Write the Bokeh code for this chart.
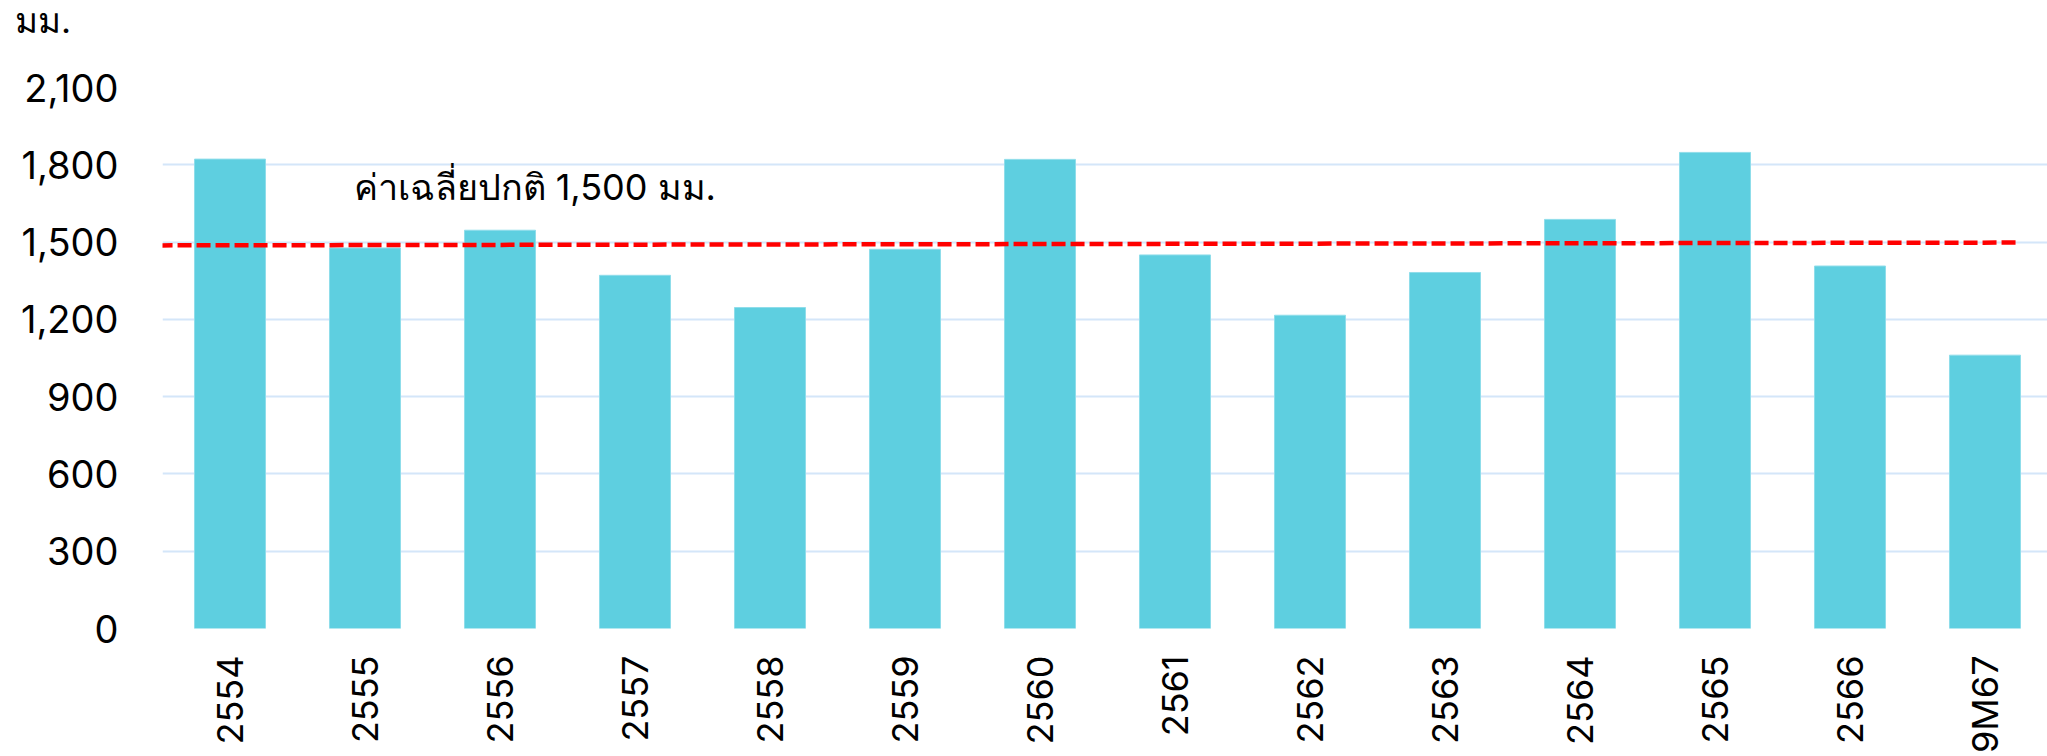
import math
from bokeh.plotting import figure
from bokeh.layouts import column
from bokeh.models import (Range1d, FixedTicker, Label, Arrow, ColumnDataSource,
                          NumeralTickFormatter, Div)
from bokeh.embed import file_html
from bokeh.resources import INLINE

years = ["2554", "2555", "2556", "2557", "2558", "2559", "2560",
         "2561", "2562", "2563", "2564", "2565", "2566", "9M67"]
rainfall = [1822, 1477, 1546, 1371, 1246, 1472, 1821,
            1450, 1216, 1382, 1588, 1848, 1407, 1061]
y_ticks = [0, 300, 600, 900, 1200, 1500, 1800, 2100]
avg_start = 1487
avg_end = 1498
avg_text = "ค่าเฉลี่ยปกติ 1,500 มม."
unit_text = "มม."

FONT = "Inter"
xs = list(range(len(years)))
src = ColumnDataSource(dict(x=xs, top=rainfall, year=years))

# --- unit header ---
head = Div(text=unit_text, width=2047, height=45, margin=(0, 0, 0, 0),
           styles={"font-family": "Inter, 'Noto Sans', sans-serif",
                   "font-size": "35px", "line-height": "35px",
                   "padding-left": "15px", "padding-top": "3px",
                   "color": "black", "box-sizing": "border-box"})

# --- main chart ---
p = figure(width=2047, height=711, output_backend="svg", toolbar_location=None,
           x_range=Range1d(-0.5, 13.463), y_range=Range1d(0, 2100),
           min_border_left=162, min_border_right=0, min_border_top=42,
           min_border_bottom=128, title=None)
p.outline_line_color = None
p.background_fill_color = "white"
p.border_fill_color = "white"

p.vbar(x="x", top="top", width=0.526, bottom=0, source=src,
       fill_color="#5ECFE0", line_color="#8FDDEA", line_width=1)

p.yaxis.ticker = FixedTicker(ticks=y_ticks)
p.yaxis.formatter = NumeralTickFormatter(format="0,0")
for ax in (p.xaxis[0], p.yaxis[0]):
    ax.axis_line_color = None
    ax.major_tick_line_color = None
    ax.minor_tick_line_color = None
    ax.major_tick_out = 0
    ax.major_tick_in = 0
    ax.minor_tick_out = 0
    ax.minor_tick_in = 0
    ax.axis_label_standoff = 0
    ax.major_label_text_font = FONT
    ax.major_label_text_color = "black"

p.yaxis.major_label_standoff = 44
p.yaxis.major_label_text_font_size = "38px"

p.xaxis.ticker = FixedTicker(ticks=xs)
p.xaxis.major_label_overrides = {i: y for i, y in zip(xs, years)}
p.xaxis.major_label_orientation = math.pi / 2
p.xaxis.major_label_standoff = 27
p.xaxis.major_label_text_font_size = "36px"

p.xgrid.grid_line_color = None
p.ygrid.grid_line_color = "#D4E6F9"
p.ygrid.grid_line_width = 2
p.ygrid.level = "underlay"

p.add_layout(Arrow(end=None, x_start=-0.67, y_start=avg_start, x_end=13.23, y_end=avg_end,
                   line_color="#FF0000", line_width=4.5, line_dash="14 5"))

p.add_layout(Label(x=0.915, y=1714, text=avg_text, text_font=FONT,
                   text_font_size="36px", text_color="black",
                   text_baseline="alphabetic", text_align="left"))

layout = column(head, p, spacing=0)
open("out.html", "w").write(file_html(layout, INLINE))
